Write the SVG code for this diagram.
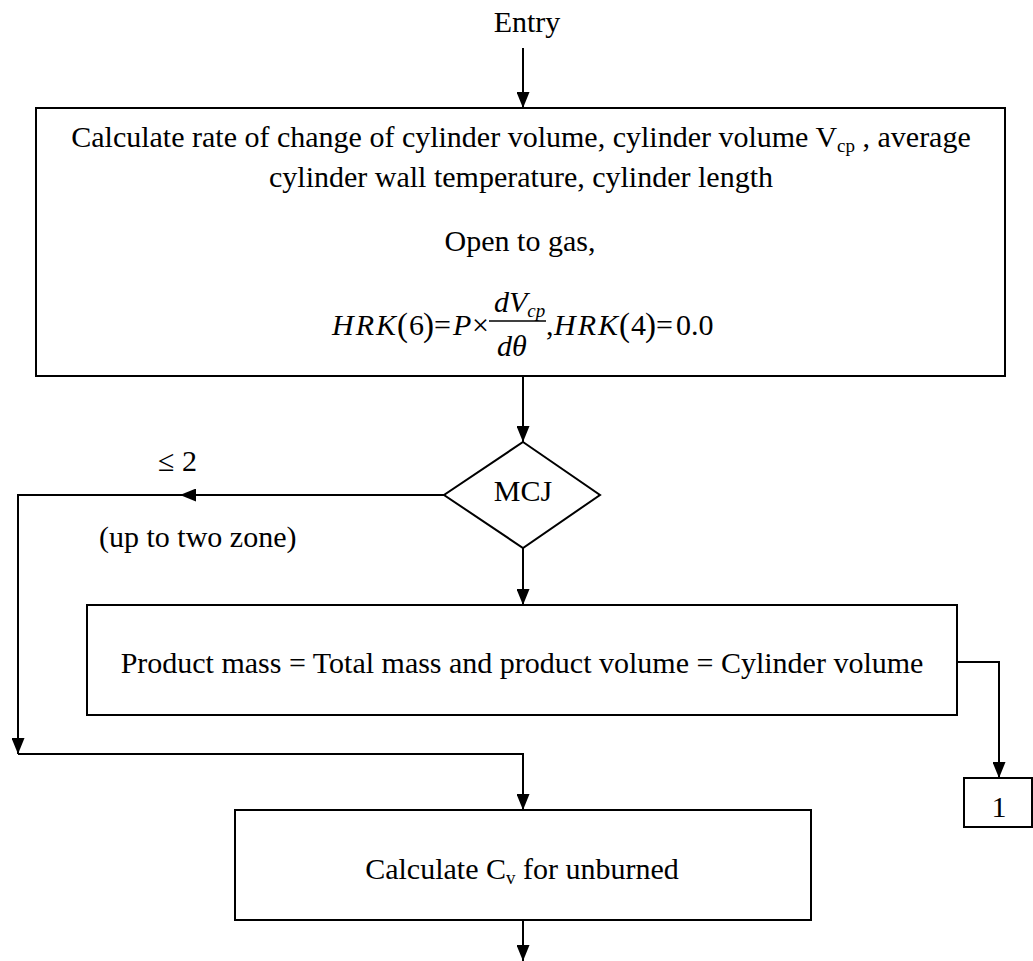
<svg xmlns="http://www.w3.org/2000/svg" width="1033" height="961" viewBox="0 0 1033 961" font-family="Liberation Serif, DejaVu Serif, Times New Roman, serif">
  <style>
    .box { fill: #fff; stroke: #000; stroke-width: 2; }
    .ln { fill: none; stroke: #000; stroke-width: 2; }
    text { font-family: "Liberation Serif", "DejaVu Serif", "Times New Roman", serif; font-size: 30px; fill: #000; }
    .i { font-style: italic; }
    .sub { font-size: 19px; }
    .var { font-style: italic; letter-spacing: 2px; }
    .par { font-size: 33px; }
  </style>
  <defs>
    <marker id="arr" viewBox="0 0 16 13" refX="16" refY="6.5" markerWidth="16" markerHeight="13" markerUnits="userSpaceOnUse" orient="auto">
      <path d="M0,0 L16,6.5 L0,13 z" fill="#000"/>
    </marker>
  </defs>

  <g id="entry">
    <text x="527" y="32" text-anchor="middle">Entry</text>
  </g>

  <g id="calc-volume">
    <rect class="box" x="36" y="108" width="969" height="268"/>
    <text x="521" y="147" text-anchor="middle">Calculate rate of change of cylinder volume, cylinder volume V<tspan class="sub" dy="5">cp</tspan><tspan dy="-5"> , average</tspan></text>
    <text x="521" y="187" text-anchor="middle">cylinder wall temperature, cylinder length</text>
    <text x="520" y="251" text-anchor="middle">Open to gas,</text>
    <!-- HRK(6) = P × dVcp/dθ , HRK(4) = 0.0 -->
    <text x="332" y="335" class="var">HRK</text>
    <text x="397" y="336" class="par">(</text><text x="409" y="335">6</text><text x="423" y="336" class="par">)</text>
    <text x="434" y="335">=</text>
    <text x="453" y="335" class="i">P</text>
    <text x="472" y="335">×</text>
    <text x="494" y="312"><tspan class="i">dV</tspan><tspan class="i sub" dy="5">cp</tspan></text>
    <line x1="489" y1="321" x2="546" y2="321" stroke="#000" stroke-width="1.3"/>
    <text x="497" y="356" class="i">dθ</text>
    <text x="546" y="335">,</text>
    <text x="554" y="335" class="var">HRK</text>
    <text x="619" y="336" class="par">(</text><text x="631" y="335">4</text><text x="645" y="336" class="par">)</text>
    <text x="656" y="335">=</text>
    <text x="676" y="335">0.0</text>
  </g>

  <g id="mcj">
    <polygon class="box" points="523,442 600,495 523,548 444,495"/>
    <text x="523" y="501" text-anchor="middle">MCJ</text>
  </g>

  <g id="product-mass">
    <rect class="box" x="87" y="605" width="870" height="110"/>
    <text x="522" y="673" text-anchor="middle">Product mass = Total mass and product volume = Cylinder volume</text>
  </g>

  <g id="connector-1">
    <rect class="box" x="964" y="778" width="68" height="49"/>
    <text x="999" y="817" text-anchor="middle">1</text>
  </g>

  <g id="calc-cv">
    <rect class="box" x="235" y="810" width="576" height="110"/>
    <text x="522" y="879" text-anchor="middle">Calculate C<tspan class="sub" dy="5">v</tspan><tspan dy="-5"> for unburned</tspan></text>
  </g>

  <g id="connectors">
    <line class="ln" x1="523" y1="48" x2="523" y2="108" marker-end="url(#arr)"/>
    <line class="ln" x1="523" y1="376" x2="523" y2="442" marker-end="url(#arr)"/>
    <line class="ln" x1="444" y1="495" x2="180" y2="495" marker-end="url(#arr)"/>
    <polyline class="ln" points="182,495 18,495 18,754" marker-end="url(#arr)"/>
    <polyline class="ln" points="18,754 523,754 523,810" marker-end="url(#arr)"/>
    <line class="ln" x1="523" y1="548" x2="523" y2="605" marker-end="url(#arr)"/>
    <polyline class="ln" points="957,662 999,662 999,778" marker-end="url(#arr)"/>
    <line class="ln" x1="523" y1="920" x2="523" y2="961" marker-end="url(#arr)"/>
    <text x="158" y="471">≤ 2</text>
    <text x="99" y="547">(up to two zone)</text>
  </g>
</svg>
